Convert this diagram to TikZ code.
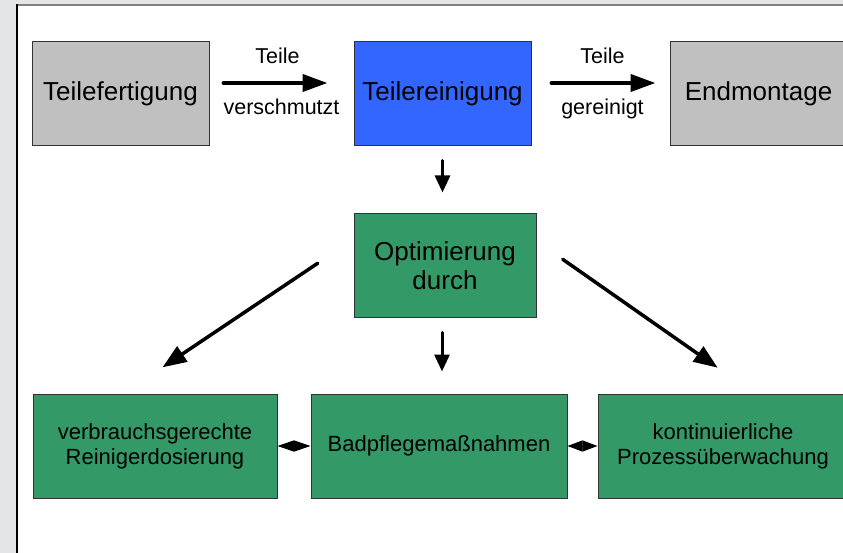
\documentclass[tikz,border=0pt]{standalone}
\usepackage{fontspec}
\setmainfont{Liberation Sans}
\usetikzlibrary{arrows.meta,calc}
\definecolor{bgGrey}{HTML}{E4E5E6}
\definecolor{boxGrey}{HTML}{C0C0C0}
\definecolor{boxBlue}{HTML}{3366FF}
\definecolor{boxGreen}{HTML}{339966}
\definecolor{frameTop}{HTML}{808080}
\begin{document}
\begin{tikzpicture}[x=1pt,y=-1pt,
  box/.style={draw=black!80, line width=1pt, rectangle, inner sep=0pt, align=center},
  bigbox/.style={box, minimum width=177pt, minimum height=104pt, font=\fontsize{26}{29}\selectfont},
  lowbox/.style={box, fill=boxGreen, minimum height=104pt, font=\fontsize{22}{25}\selectfont},
  lbl/.style={font=\fontsize{21.5}{25}\selectfont, inner sep=0pt, anchor=base},
  flowarrow/.style={line width=4pt, line cap=round, -{Triangle[length=25pt,width=17pt]}},
  downarrow/.style={line width=3pt, line cap=round, -{Triangle[length=17pt,width=15pt]}},
  diagarrow/.style={line width=3.5pt, line cap=round, -{Triangle[length=24pt,width=18pt]}},
  linkarrow/.style={line width=1pt, {Triangle[length=#1,width=11pt]}-{Triangle[length=#1,width=11pt]}}
]
\clip (0,0) rectangle (843,553);
\fill[bgGrey] (0,0) rectangle (843,553);
\fill[white] (17,5) rectangle (843,553);
\draw[line width=2pt, frameTop] (17,5) -- (843,5);
\draw[line width=1.5pt, black] (17,4) -- (17,553);

% top row
\node[bigbox, fill=boxGrey] (tf) at (120.5,94) {Teilefertigung};
\node[bigbox, fill=boxBlue] (tr) at (442.5,94) {Teilereinigung};
\node[bigbox, fill=boxGrey] (em) at (758.5,94) {Endmontage};

% middle
\node[bigbox, fill=boxGreen, minimum width=182pt, minimum height=103pt] (opt) at (445,265.5) {Optimierung\\durch};

% bottom row
\node[lowbox, minimum width=244pt] (b1) at (155,446) {verbrauchsgerechte\\Reinigerdosierung};
\node[lowbox, minimum width=256pt] (b2) at (439,446) {Badpflegemaßnahmen};
\node[lowbox, minimum width=250pt] (b3) at (723,446) {kontinuierliche\\Prozessüberwachung};

% flow arrows with labels
\draw[flowarrow, shorten <=14pt, shorten >=26pt] ([yshift=11pt]tf.east) -- ([yshift=11pt]tr.west)
  node[lbl, pos=0.5, yshift=19.7pt, xshift=-4pt] (l1a) {Teile}
  node[lbl, pos=0.5, yshift=-32pt] (l1b) {verschmutzt};
\draw[flowarrow, shorten <=20pt, shorten >=14pt] ([yshift=11pt]tr.east) -- ([yshift=11pt]em.west)
  node[lbl, pos=0.5, yshift=19.7pt, xshift=2pt] (l2a) {Teile}
  node[lbl, pos=0.5, yshift=-32pt, xshift=2pt] (l2b) {gereinigt};

% vertical arrows
\draw[downarrow, shorten <=14pt, shorten >=21pt] (tr.south) -- (tr.south |- opt.north);
\draw[downarrow, shorten <=15pt, shorten >=22pt] ([xshift=-3pt]opt.south) -- ([xshift=-3pt]opt.south |- b2.north);

% diagonal arrows
\draw[diagarrow, shorten <=43pt, shorten >=47pt] (opt.164) -- (b1.121);
\draw[diagarrow, shorten <=32pt, shorten >=45pt] (opt.15) -- (b3.59);

% links between bottom boxes
\draw[linkarrow=16.5pt] (b1.east) -- (b2.west);
\draw[linkarrow=15pt] (b2.east) -- (b3.west);
\end{tikzpicture}
\end{document}
